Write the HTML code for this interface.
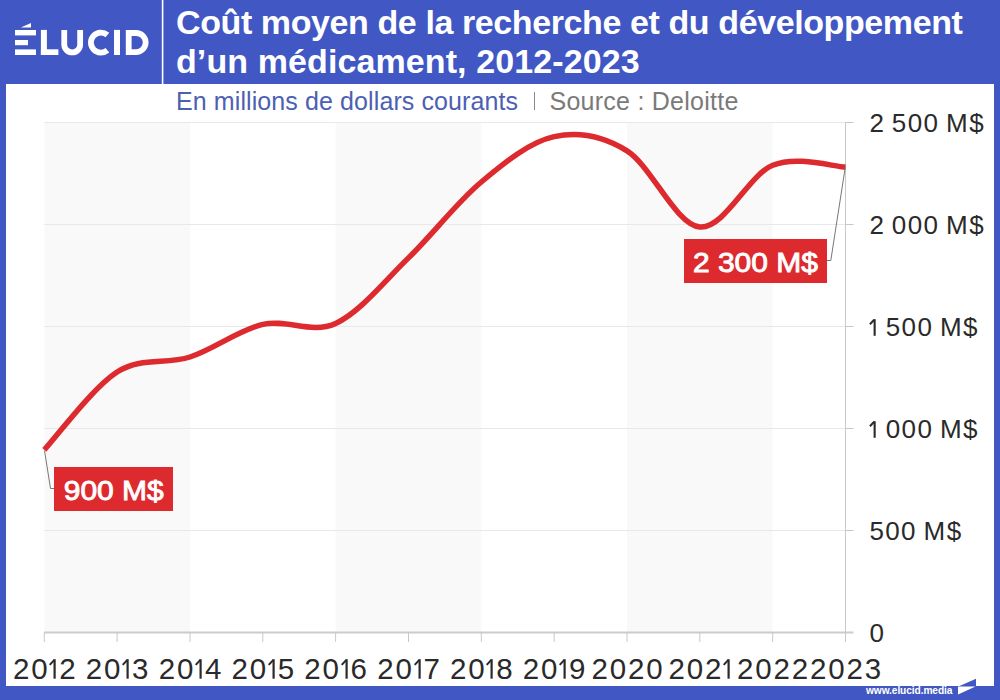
<!DOCTYPE html>
<html><head><meta charset="utf-8">
<style>
html,body{margin:0;padding:0;}
body{width:1000px;height:700px;overflow:hidden;background:#4057c4;position:relative;font-family:"Liberation Sans",sans-serif;}
.panel{position:absolute;left:6px;top:84px;width:988px;height:602px;background:#fff;}
.t{position:absolute;white-space:nowrap;}
.title{left:176px;color:#fff;font-weight:bold;font-size:34px;line-height:39.3px;top:2.5px;}
.l1{letter-spacing:-0.4px;}.l2{letter-spacing:0.1px;}
.sub{left:176px;top:85px;font-size:25px;line-height:32px;color:#4d5fb3;}
.sub.g{color:#7a7a7a;}
.yl{position:absolute;left:869.4px;font-size:26px;color:#2a2a2a;line-height:30px;letter-spacing:1.4px;word-spacing:-2px;}
.xl{position:absolute;top:652px;font-size:29.5px;color:#2a2a2a;line-height:34px;width:100px;text-align:center;letter-spacing:1.85px;text-indent:1.85px;}
.one{display:inline-block;vertical-align:baseline;fill:#2a2a2a;overflow:visible;}
.lab{position:absolute;background:#dc2a2e;color:#fff;font-size:28px;line-height:44px;height:44px;text-align:center;-webkit-text-stroke:0.9px #fff;padding-top:2px;box-sizing:border-box;}
.lab span{display:inline-block;transform:scaleX(1.07);}
.url{position:absolute;left:866px;top:684.5px;font-size:10.2px;letter-spacing:-0.1px;font-weight:bold;color:#fff;}
</style></head><body>
<div class="panel"></div>
<svg width="1000" height="700" style="position:absolute;left:0;top:0">
  <!-- logo -->
  <g fill="#fff">
    <polygon points="20.8,27.4 31,23 31,27.4"/>
    <rect x="15" y="30" width="21" height="5.4"/>
    <rect x="15" y="40" width="13" height="5.2"/>
    <rect x="15" y="49.4" width="21" height="5.6"/>
    <rect x="40.9" y="29.9" width="6" height="25.1"/>
    <rect x="40.9" y="49.3" width="17.5" height="5.7"/>
    <rect x="114" y="29.9" width="6" height="25.1"/>
  </g>
  <g fill="none" stroke="#fff" stroke-width="5.8">
    <path d="M64.25,29.9 V44.5 A7.95,7.95 0 0 0 80.15,44.5 V29.9"/>
    <path d="M107.4,35.0 A10,10 0 1 0 107.4,50.2"/>
    <path d="M128.7,33 H136.1 A9.55,9.55 0 0 1 136.1,52.1 H128.7 Z"/>
  </g>
  <rect x="161.8" y="0" width="1.6" height="84" fill="#fff"/>
  <!-- bands -->
  <g fill="#f9f9f9">
    <rect x="44.3" y="122" width="145.7" height="510"/>
    <rect x="335.6" y="122" width="145.7" height="510"/>
    <rect x="627" y="122" width="145.7" height="510"/>
  </g>
  <g stroke="#e8e8e8" stroke-width="1">
    <line x1="44.3" y1="122.5" x2="853.5" y2="122.5"/>
    <line x1="44.3" y1="224.5" x2="853.5" y2="224.5"/>
    <line x1="44.3" y1="326.5" x2="853.5" y2="326.5"/>
    <line x1="44.3" y1="428.5" x2="853.5" y2="428.5"/>
    <line x1="44.3" y1="530.5" x2="853.5" y2="530.5"/>
  </g>
  <g stroke="#c8c8c8" stroke-width="1">
    <line x1="845.5" y1="122" x2="845.5" y2="642"/>
    <line x1="845.5" y1="122.5" x2="853.5" y2="122.5"/>
    <line x1="845.5" y1="224.5" x2="853.5" y2="224.5"/>
    <line x1="845.5" y1="326.5" x2="853.5" y2="326.5"/>
    <line x1="845.5" y1="428.5" x2="853.5" y2="428.5"/>
    <line x1="845.5" y1="530.5" x2="853.5" y2="530.5"/>
  </g>
  <line x1="44.3" y1="632.5" x2="853.5" y2="632.5" stroke="#cccccc" stroke-width="2"/>
  <g stroke="#c8c8c8" stroke-width="1"><line x1="44.3" y1="632" x2="44.3" y2="642"/><line x1="117.1" y1="632" x2="117.1" y2="642"/><line x1="190.0" y1="632" x2="190.0" y2="642"/><line x1="262.8" y1="632" x2="262.8" y2="642"/><line x1="335.6" y1="632" x2="335.6" y2="642"/><line x1="408.5" y1="632" x2="408.5" y2="642"/><line x1="481.3" y1="632" x2="481.3" y2="642"/><line x1="554.2" y1="632" x2="554.2" y2="642"/><line x1="627.0" y1="632" x2="627.0" y2="642"/><line x1="699.8" y1="632" x2="699.8" y2="642"/><line x1="772.7" y1="632" x2="772.7" y2="642"/><line x1="845.5" y1="632" x2="845.5" y2="642"/></g>
  <path d="M44.3,449.8 C56.4,436.8 92.9,387.5 117.1,372.0 C141.4,356.5 165.7,364.9 190.0,357.0 C214.3,349.1 238.5,330.0 262.8,324.4 C287.1,318.8 311.4,334.5 335.6,323.4 C359.9,312.3 384.2,281.5 408.5,257.9 C432.8,234.3 457.0,202.2 481.3,182.0 C505.6,161.8 529.9,141.8 554.2,136.6 C578.4,131.4 602.7,135.7 627.0,150.8 C651.3,165.9 675.5,224.6 699.8,227.0 C724.1,229.4 748.4,175.2 772.7,165.2 C796.9,155.2 833.4,166.8 845.5,167.1" fill="none" stroke="#dc2a2e" stroke-width="5.5" stroke-linecap="butt"/>
  <polyline points="44.5,450.5 50.5,488.5 54.5,488.5" fill="none" stroke="#777" stroke-width="1"/>
  <polyline points="845.3,167 830.8,260.5 827,260.5" fill="none" stroke="#777" stroke-width="1"/>
  <!-- corner notch -->
  <polygon points="959,686.2 976,678.8 976,686.2" fill="#4057c4"/>
  <polygon points="958,686.4 975.5,686.4 958,694.5" fill="#fff"/>
</svg>
<div class="t title"><span class="l1">Coût moyen de la recherche et du développement</span><br><span class="l2">d’un médicament, 2012-2023</span></div>
<div class="t sub" style="letter-spacing:0.1px">En millions de dollars courants</div>
<div style="position:absolute;left:534px;top:92px;width:1.4px;height:17.5px;background:#8a8a8a"></div>
<div class="t sub g" style="left:549.5px;letter-spacing:0.25px">Source : Deloitte</div>
<div class="yl" style="top:108px"><span>2 500 M$</span></div>
<div class="yl" style="top:210px"><span>2 000 M$</span></div>
<div class="yl" style="top:312px"><span><svg class="one" width="9.7" height="17.4" viewBox="0 0 9.7 17.4"><rect x="4.6" y="0.2" width="2.1" height="16.6"/><path d="M0.9,5.2 L5.2,0.8" stroke="#2a2a2a" stroke-width="2"/></svg> 500 M$</span></div>
<div class="yl" style="top:414px"><span><svg class="one" width="9.7" height="17.4" viewBox="0 0 9.7 17.4"><rect x="4.6" y="0.2" width="2.1" height="16.6"/><path d="M0.9,5.2 L5.2,0.8" stroke="#2a2a2a" stroke-width="2"/></svg> 000 M$</span></div>
<div class="yl" style="top:516px"><span>500 M$</span></div>
<div class="yl" style="top:618px"><span>0</span></div>
<div class="lab" style="left:54.3px;top:467px;width:119px"><span>900 M$</span></div>
<div class="lab" style="left:684px;top:238.7px;width:143px"><span>2 300 M$</span></div>
<div class="xl" style="left:-5.7px">20<svg class="one" width="9.75" height="20.4" viewBox="0 0 9.75 20.4"><rect x="4.5" y="0.2" width="2.2" height="19.5"/><path d="M0.7,5.9 L5.4,0.9" stroke="#2a2a2a" stroke-width="2.1"/></svg>2</div>
<div class="xl" style="left:67.1px">20<svg class="one" width="9.75" height="20.4" viewBox="0 0 9.75 20.4"><rect x="4.5" y="0.2" width="2.2" height="19.5"/><path d="M0.7,5.9 L5.4,0.9" stroke="#2a2a2a" stroke-width="2.1"/></svg>3</div>
<div class="xl" style="left:140.0px">20<svg class="one" width="9.75" height="20.4" viewBox="0 0 9.75 20.4"><rect x="4.5" y="0.2" width="2.2" height="19.5"/><path d="M0.7,5.9 L5.4,0.9" stroke="#2a2a2a" stroke-width="2.1"/></svg>4</div>
<div class="xl" style="left:212.8px">20<svg class="one" width="9.75" height="20.4" viewBox="0 0 9.75 20.4"><rect x="4.5" y="0.2" width="2.2" height="19.5"/><path d="M0.7,5.9 L5.4,0.9" stroke="#2a2a2a" stroke-width="2.1"/></svg>5</div>
<div class="xl" style="left:285.6px">20<svg class="one" width="9.75" height="20.4" viewBox="0 0 9.75 20.4"><rect x="4.5" y="0.2" width="2.2" height="19.5"/><path d="M0.7,5.9 L5.4,0.9" stroke="#2a2a2a" stroke-width="2.1"/></svg>6</div>
<div class="xl" style="left:358.5px">20<svg class="one" width="9.75" height="20.4" viewBox="0 0 9.75 20.4"><rect x="4.5" y="0.2" width="2.2" height="19.5"/><path d="M0.7,5.9 L5.4,0.9" stroke="#2a2a2a" stroke-width="2.1"/></svg>7</div>
<div class="xl" style="left:431.3px">20<svg class="one" width="9.75" height="20.4" viewBox="0 0 9.75 20.4"><rect x="4.5" y="0.2" width="2.2" height="19.5"/><path d="M0.7,5.9 L5.4,0.9" stroke="#2a2a2a" stroke-width="2.1"/></svg>8</div>
<div class="xl" style="left:504.2px">20<svg class="one" width="9.75" height="20.4" viewBox="0 0 9.75 20.4"><rect x="4.5" y="0.2" width="2.2" height="19.5"/><path d="M0.7,5.9 L5.4,0.9" stroke="#2a2a2a" stroke-width="2.1"/></svg>9</div>
<div class="xl" style="left:577.0px">2020</div>
<div class="xl" style="left:649.8px">202<svg class="one" width="9.75" height="20.4" viewBox="0 0 9.75 20.4"><rect x="4.5" y="0.2" width="2.2" height="19.5"/><path d="M0.7,5.9 L5.4,0.9" stroke="#2a2a2a" stroke-width="2.1"/></svg></div>
<div class="xl" style="left:722.7px">2022</div>
<div class="xl" style="left:795.5px">2023</div>
<div class="url">www.elucid.media</div>
</body></html>
